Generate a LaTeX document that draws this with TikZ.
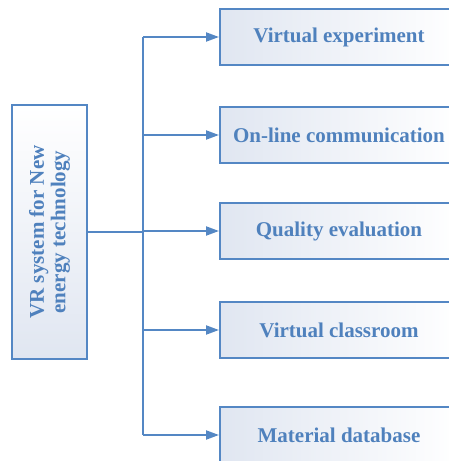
\documentclass[tikz,border=0pt]{standalone}
\usepackage{fontspec}
\setmainfont{Liberation Serif}
\usetikzlibrary{arrows.meta}
\definecolor{lineblue}{RGB}{84,135,196}
\definecolor{textblue}{RGB}{79,129,189}
\definecolor{shadeblue}{RGB}{224,230,241}
\tikzset{
  boxfont/.style={font=\fontsize{21}{21.5}\selectfont\bfseries, text=textblue},
  itembox/.style={draw=lineblue, line width=2pt, minimum width=238pt, minimum height=56pt,
    inner sep=0pt, left color=shadeblue, right color=white, boxfont},
  conn/.style={draw=lineblue, line width=2pt},
  arr/.style={conn, -{Triangle[length=13pt,width=9pt]}},
}
\begin{document}
\begin{tikzpicture}[x=1pt,y=-1pt]
\clip (0,0) rectangle (449,461);
\fill[white] (0,0) rectangle (449,461);
\node[draw=lineblue, line width=2pt, minimum width=75pt, minimum height=254pt, inner sep=0pt,
      top color=white, bottom color=shadeblue] (vrbox) at (49.5,232) {};
\node[boxfont, rotate=90, align=center, inner sep=0pt] (vrtext) at (vrbox.center)
      {VR system for New\\energy technology};
\node[itembox] (b1) at (339,37) {Virtual experiment};
\node[itembox] (b2) at (339,135) {On-line communication};
\node[itembox] (b3) at (339,231) {Quality evaluation};
\node[itembox] (b4) at (339,330) {Virtual classroom};
\node[itembox] (b5) at (339,435) {Material database};
\coordinate (trunktop) at (143,37);
\coordinate (trunkbot) at (143,435);
\draw[conn] (trunktop) -- (trunkbot);
\draw[conn] (vrbox.east) -- (vrbox.east -| trunktop);
\foreach \b in {b1,b2,b3,b4,b5}{
  \draw[arr] (\b.west -| trunktop) -- (\b.west);
}
\end{tikzpicture}
\end{document}
